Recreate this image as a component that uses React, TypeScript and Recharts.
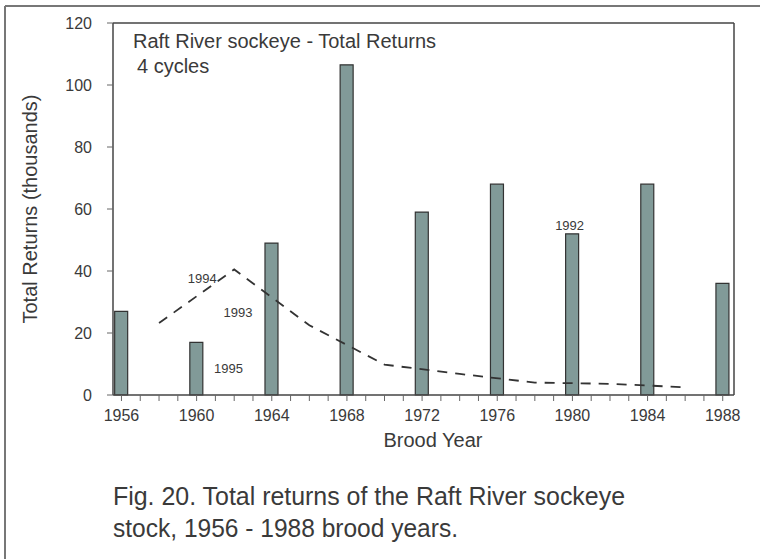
import React from "react";
import { ComposedChart, Bar, Line, XAxis, YAxis, ReferenceDot } from "recharts";

// Total returns per brood year (thousands), one bar every 4th year
const broodYears = [1956, 1960, 1964, 1968, 1972, 1976, 1980, 1984, 1988];
const totalReturns = [27, 17, 49, 106.5, 59, 68, 52, 68, 36];

// Dashed return trend
const trendYears = [1958, 1962, 1966, 1970, 1974, 1978, 1982, 1986];
const trendReturns = [23.2, 40.5, 22.5, 9.8, 6.8, 4, 3.6, 2.5];

const yTicks = [0, 20, 40, 60, 80, 100, 120];
const yearTicks = Array.from({ length: 33 }, (_, i) => 1956 + i);

const returnYearNotes = [
  { text: "1994", year: 1960.3, value: 37.7 },
  { text: "1993", year: 1962.2, value: 26.8 },
  { text: "1995", year: 1961.7, value: 8.7 },
  { text: "1992", year: 1979.85, value: 54.8 },
];

const rows = [
  ...broodYears.map((year, i) => ({ year, returns: totalReturns[i] })),
  ...trendYears.map((year, i) => ({ year, trend: trendReturns[i] })),
].sort((a, b) => a.year - b.year);

const FONT = "'Liberation Sans', Arial, Helvetica, sans-serif";
const NARROW = "'Liberation Sans Narrow', 'Arial Narrow', 'Liberation Sans', sans-serif";
const INK = "#3a3a3a";
const FRAME = { stroke: "#444", strokeWidth: 1.5 };
const X_DOMAIN: [number, number] = [1955.55, 1988.6];

const YearTick = (props: any) => {
  const { x, y, payload } = props;
  const labeled = broodYears.includes(payload.value);
  return (
    <g>
      <line x1={x} x2={x} y1={y} y2={y + 6} stroke="#666" strokeWidth={1} />
      {labeled && (
        <text x={x} y={y + 26} textAnchor="middle" fontSize={16} fontFamily={FONT} fill={INK}>
          {payload.value}
        </text>
      )}
    </g>
  );
};

export default function App() {
  return (
    <div style={{ position: "absolute", left: 0, top: 0, width: 760, height: 559, background: "#fff" }}>
      <ComposedChart
        width={760}
        height={559}
        data={rows}
        margin={{ top: 22, right: 25, bottom: 163, left: 112 }}
      >
        <XAxis
          dataKey="year"
          type="number"
          domain={X_DOMAIN}
          allowDataOverflow
          ticks={yearTicks}
          interval={0}
          height={1}
          tickSize={0}
          tickMargin={0}
          tickLine={false}
          tick={<YearTick />}
          axisLine={FRAME}
        />
        <XAxis
          xAxisId="top"
          orientation="top"
          type="number"
          domain={X_DOMAIN}
          allowDataOverflow
          height={1}
          tick={false}
          tickLine={false}
          axisLine={FRAME}
        />
        <YAxis
          type="number"
          domain={[0, 120]}
          ticks={yTicks}
          interval={0}
          width={1}
          tickSize={6}
          tickMargin={15}
          tickLine={{ stroke: "#666" }}
          tick={{ fontSize: 16, fontFamily: FONT, fill: INK }}
          axisLine={FRAME}
        />
        <YAxis
          yAxisId="right"
          orientation="right"
          type="number"
          domain={[0, 120]}
          width={1}
          tick={false}
          tickLine={false}
          axisLine={FRAME}
        />
        <Bar
          dataKey="returns"
          barSize={13}
          fill="#819a98"
          stroke="#333"
          strokeWidth={1.2}
          isAnimationActive={false}
        />
        <Line
          dataKey="trend"
          type="linear"
          connectNulls
          stroke="#333"
          strokeWidth={1.8}
          strokeDasharray="10 8"
          dot={false}
          activeDot={false}
          isAnimationActive={false}
        />
        {returnYearNotes.map((n) => (
          <ReferenceDot
            key={n.text}
            x={n.year}
            y={n.value}
            r={0}
            fill="none"
            stroke="none"
            label={{ value: n.text, position: "center", fontSize: 13, fontFamily: FONT, fill: INK }}
          />
        ))}
      </ComposedChart>

      <svg
        width={760}
        height={559}
        style={{ position: "absolute", left: 0, top: 0, pointerEvents: "none" }}
        fontFamily={FONT}
      >
        {/* figure frame */}
        <line x1={5} y1={6} x2={760} y2={6} stroke="#777" strokeWidth={2} />
        <line x1={5} y1={6} x2={5} y2={559} stroke="#777" strokeWidth={2} />

        <text x={133} y={48} fontSize={20} fill={INK}>
          Raft River sockeye - Total Returns
        </text>
        <text x={137} y={73} fontSize={20} fill={INK}>
          4 cycles
        </text>

        <text
          x={0}
          y={0}
          transform="translate(37 209) rotate(-90)"
          textAnchor="middle"
          fontSize={20}
          fill={INK}
        >
          Total Returns (thousands)
        </text>
        <text x={433} y={447} textAnchor="middle" fontSize={20} fill={INK}>
          Brood Year
        </text>

        <text x={113} y={505} fontSize={25} fill={INK} fontFamily={NARROW} textLength={512} lengthAdjust="spacingAndGlyphs">
          Fig. 20. Total returns of the Raft River sockeye
        </text>
        <text x={113} y={537} fontSize={25} fill={INK} fontFamily={NARROW} textLength={345} lengthAdjust="spacingAndGlyphs">
          stock, 1956 - 1988 brood years.
        </text>
      </svg>
    </div>
  );
}
